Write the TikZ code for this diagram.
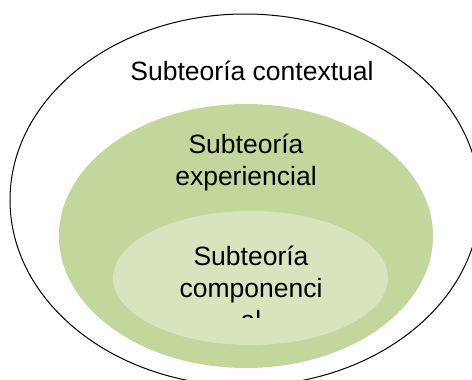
\documentclass[tikz,border=0pt]{standalone}
\usepackage{fontspec}
\setmainfont{Liberation Sans}
\usetikzlibrary{shapes.geometric}

\definecolor{oliveMid}{HTML}{C3D69B}
\definecolor{oliveLight}{HTML}{D7E4BD}

\begin{document}
\begin{tikzpicture}[x=1pt,y=-1pt,
    layer/.style={ellipse, inner sep=0pt},
    label text/.style={align=center, inner sep=0pt, font=\fontsize{26.5}{31.8}\selectfont}]

    \useasboundingbox (0,0) rectangle (472,380);
    \clip (0,0) rectangle (472,380);

    \node[layer, draw=black, line width=1pt, fill=white, minimum width=470pt, minimum height=372pt] (contextual) at (245,200) {};
    \node[layer, fill=oliveMid, minimum width=374pt, minimum height=264pt] (experiencial) at (246,236) {};
    \node[layer, fill=oliveLight, minimum width=275pt, minimum height=134pt] (componencial) at (250.5,278) {};

    % base = baseline of the last line
    \node[label text, anchor=base] (t1) at (252,80) {Subteoría contextual};
    \node[label text, anchor=base] (t2) at (246,185) {Subteoría\\experiencial};

    \begin{scope}
        \clip (0,0) rectangle (472,317);
        \node[label text, anchor=base] (t3) at (251,329) {Subteoría\\componenci\\al};
    \end{scope}
\end{tikzpicture}
\end{document}
